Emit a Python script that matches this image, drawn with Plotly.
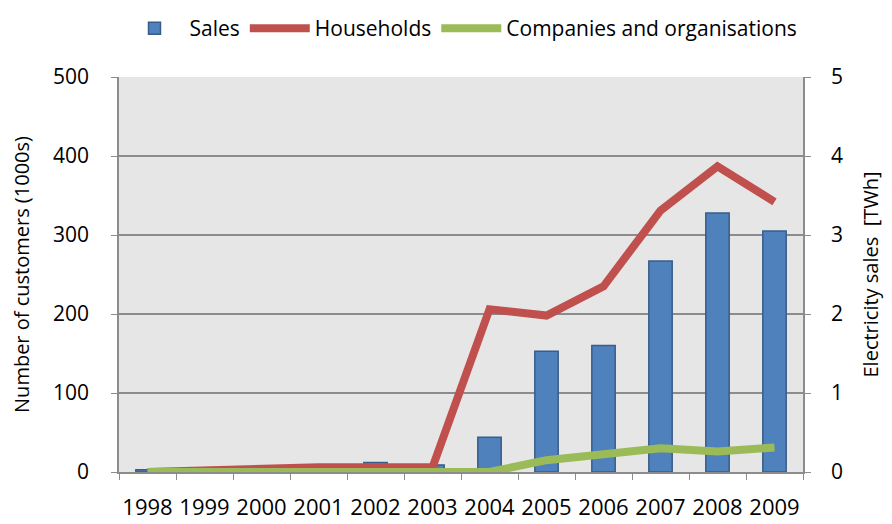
import plotly.graph_objects as go

years = ["1998", "1999", "2000", "2001", "2002", "2003", "2004", "2005", "2006", "2007", "2008", "2009"]
sales_twh = [0.03, 0.02, 0.03, 0.06, 0.12, 0.09, 0.44, 1.53, 1.60, 2.67, 3.28, 3.05]
households = [0, 2, 5, 6, 6, 6, 206, 198, 235, 331, 387, 342]
companies = [0, 0, 0, 0, 0, 0, 0, 15, 23, 30, 26, 31]

FONT = "Open Sans"
GRID = "#8c8c8c"

fig = go.Figure()
fig.add_trace(go.Bar(
    x=years, y=sales_twh, name="Sales", yaxis="y",
    marker=dict(color="#4f81bd", line=dict(color="#385d8a", width=1.5)),
    width=0.41,
))
fig.add_trace(go.Scatter(
    x=years, y=households, name="Households", yaxis="y2", mode="lines",
    line=dict(color="#c0504d", width=8),
))
fig.add_trace(go.Scatter(
    x=years, y=companies, name="Companies and organisations", yaxis="y2", mode="lines",
    line=dict(color="#9bbb59", width=8),
))

# page body has an 8px margin, so the figure is sized/offset to compensate
fig.update_layout(
    width=884, height=516,
    margin=dict(l=111, r=89, t=69, b=52, autoexpand=False),
    paper_bgcolor="white",
    plot_bgcolor="#e6e6e6",
    font=dict(family=FONT, size=20, color="black"),
    showlegend=True,
    legend=dict(orientation="h", x=0.5, xanchor="center", y=1.0, yref="container",
                yanchor="top", font=dict(size=21), traceorder="normal",
                itemwidth=60, bgcolor="rgba(0,0,0,0)"),
    xaxis=dict(
        type="category", tickson="boundaries", ticks="outside", ticklen=6,
        tickcolor=GRID, showline=True, linecolor=GRID, linewidth=1.5,
        showgrid=False, tickfont=dict(size=22), tickangle=0, ticklabelstandoff=15,
        range=[-0.5, 11.5], automargin=False,
    ),
    yaxis=dict(
        side="right", range=[0, 5], dtick=1, showgrid=True, gridcolor=GRID, gridwidth=1.5,
        ticks="outside", ticklen=6, tickcolor=GRID, showline=True, linecolor=GRID,
        linewidth=1.5, zeroline=False, tickfont=dict(size=21), ticklabelstandoff=16,
        title=dict(text="Electricity sales  [TWh]", font=dict(size=20), standoff=22),
        automargin=False,
    ),
    yaxis2=dict(
        side="left", overlaying="y", range=[0, 500], dtick=100, showgrid=False,
        ticks="outside", ticklen=6, tickcolor=GRID, showline=True, linecolor=GRID,
        linewidth=1.5, zeroline=False, tickfont=dict(size=21), ticklabelstandoff=18,
        title=dict(text="Number of customers (1000s)", font=dict(size=20), standoff=20),
        automargin=False,
    ),
)

fig.write_html("out.html")
